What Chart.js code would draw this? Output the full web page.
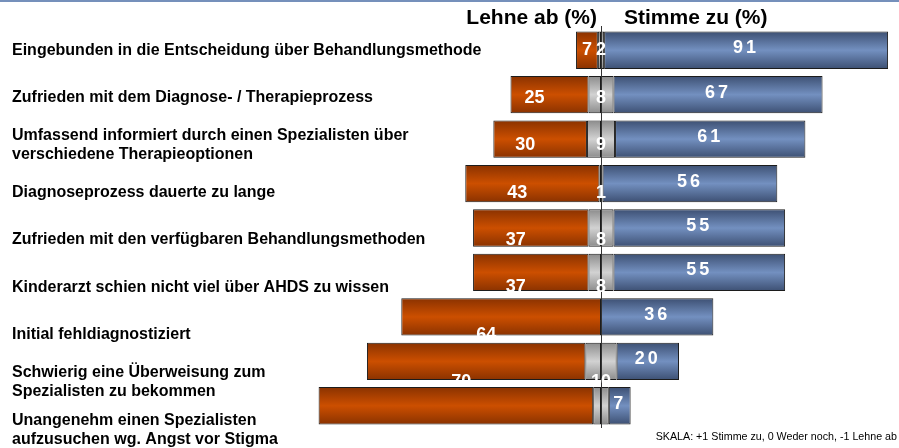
<!DOCTYPE html>
<html>
<head>
<meta charset="utf-8">
<script src="https://cdn.jsdelivr.net/npm/chart.js@4.4.1/dist/chart.umd.min.js"></script>
<style>
  html, body { margin: 0; padding: 0; background: #fff; }
  canvas { display: block; }
</style>
</head>
<body>
<canvas id="surveyChart" width="899" height="448"></canvas>
<script>
// Kategorien (Fragen)
const categories = [
    'Eingebunden in die Entscheidung über Behandlungsmethode',
    'Zufrieden mit dem Diagnose- / Therapieprozess',
    ['Umfassend informiert durch einen Spezialisten über', 'verschiedene Therapieoptionen'],
    'Diagnoseprozess dauerte zu lange',
    'Zufrieden mit den verfügbaren Behandlungsmethoden',
    'Kinderarzt schien nicht viel über AHDS zu wissen',
    'Initial fehldiagnostiziert',
    ['Schwierig eine Überweisung zum', 'Spezialisten zu bekommen'],
    ['Unangenehm einen Spezialisten', 'aufzusuchen wg. Angst vor Stigma']
];

// Werte in %
const disagree = [7, 25, 30, 43, 37, 37, 64, 70, 88];
const neutral = [2, 8, 9, 1, 8, 8, 0, 10, 5];
const agree = [91, 67, 61, 56, 55, 55, 36, 20, 7];

const headerLeft = 'Lehne ab (%)';
const headerRight = 'Stimme zu (%)';
const scaleNote = 'SKALA: +1 Stimme zu, 0 Weder noch, -1 Lehne ab';

const BAR_PCT = 0.84;
const FONT = '"Liberation Sans", Arial, sans-serif';

// labels drift downward a bit per row (as in the original slide)
function drift(i) {
    return i * 3;
}

function barGradient(stops) {
    return function(ctx) {
        const chart = ctx.chart;
        const yScale = chart.scales && chart.scales.y;
        if (ctx.type !== 'data' || !yScale || !chart.chartArea) {
            return stops[1];
        }
        const band = (yScale.bottom - yScale.top) / categories.length;
        const c = yScale.getPixelForValue(ctx.dataIndex);
        const h = band * BAR_PCT / 2;
        const g = chart.ctx.createLinearGradient(0, c - h, 0, c + h);
        g.addColorStop(0, stops[0]);
        g.addColorStop(0.5, stops[1]);
        g.addColorStop(1, stops[0]);
        return g;
    };
}

const orangeFill = barGradient(['#8a3200', '#cc4f00']);
const blueFill = barGradient(['#3d5073', '#7390c0']);
const grayFill = barGradient(['#8c8c8c', '#d2d2d2']);

const decorPlugin = {
    id: 'decor',
    beforeDraw(chart) {
        const c = chart.ctx;
        c.save();
        c.fillStyle = '#7590bb';
        c.fillRect(0, 0, chart.width, 2);
        c.restore();
    },
    afterDatasetsDraw(chart) {
        const c = chart.ctx;
        const x = chart.scales.x;
        const y = chart.scales.y;
        const x0 = x.getPixelForValue(0);

        c.save();
        // Mittellinie
        c.strokeStyle = '#333';
        c.lineWidth = 1;
        c.beginPath();
        c.moveTo(Math.round(x0) + 0.5, 26);
        c.lineTo(Math.round(x0) + 0.5, y.bottom);
        c.stroke();

        // Überschriften
        c.fillStyle = '#000';
        c.font = 'bold 21px ' + FONT;
        c.textBaseline = 'middle';
        c.textAlign = 'right';
        c.fillText(headerLeft, x0 - 4, 18);
        c.textAlign = 'left';
        c.fillText(headerRight, x0 + 23, 18);

        // Kategorien links
        c.font = 'bold 16px ' + FONT;
        c.textAlign = 'left';
        categories.forEach((cat, i) => {
            const lines = Array.isArray(cat) ? cat : [cat];
            const cy = y.getPixelForValue(i) + drift(i);
            const lh = 19;
            lines.forEach((line, k) => {
                c.fillText(line, 12, cy + (k - (lines.length - 1) / 2) * lh);
            });
        });

        // Werte in den Balken
        const metaDis = chart.getDatasetMeta(1);
        const metaAgr = chart.getDatasetMeta(3);
        c.fillStyle = '#fff';
        c.font = 'bold 18px ' + FONT;
        c.textAlign = 'center';
        for (let i = 0; i < categories.length; i++) {
            const d = metaDis.data[i].getProps(['x', 'y', 'base'], true);
            const a = metaAgr.data[i].getProps(['x', 'y', 'base'], true);
            const ly = d.y + drift(i);
            if (ly <= y.bottom) {
                const w = Math.abs(d.base - d.x);
                const shift = Math.min(15, Math.max(0, (w - 25) * 0.3));
                if (disagree[i]) c.fillText(String(disagree[i]), (d.x + d.base) / 2 - shift, ly);
                if (neutral[i]) c.fillText(String(neutral[i]), x0, ly);
            }
            if (agree[i]) {
                c.save();
                if ('letterSpacing' in c) c.letterSpacing = '3px';
                c.fillText(String(agree[i]), (a.x + a.base) / 2, a.y - 2);
                c.restore();
            }
        }

        // Skala-Hinweis
        c.fillStyle = '#000';
        c.font = '10.7px ' + FONT;
        c.textAlign = 'right';
        c.fillText(scaleNote, chart.width - 2, 437);
        c.restore();
    }
};

const half = neutral.map(v => v / 2);

new Chart(document.getElementById('surveyChart'), {
    type: 'bar',
    data: {
        labels: categories,
        datasets: [{
            label: 'Weder noch (-)',
            data: half.map(v => -v),
            backgroundColor: grayFill
        }, {
            label: 'Lehne ab',
            data: disagree.map(v => -v),
            backgroundColor: orangeFill
        }, {
            label: 'Weder noch (+)',
            data: half,
            backgroundColor: grayFill
        }, {
            label: 'Stimme zu',
            data: agree,
            backgroundColor: blueFill
        }]
    },
    options: {
        indexAxis: 'y',
        responsive: false,
        animation: false,
        devicePixelRatio: 1,
        layout: {
            padding: { top: 28, bottom: 20, left: 0, right: 0 }
        },
        datasets: {
            bar: {
                barPercentage: BAR_PCT,
                categoryPercentage: 1,
                borderColor: '#1c1c1c',
                borderWidth: 1,
                borderSkipped: false
            }
        },
        plugins: {
            legend: { display: false },
            tooltip: { enabled: false }
        },
        scales: {
            x: {
                stacked: true,
                min: -192.6,
                max: 95.5,
                display: false
            },
            y: {
                stacked: true,
                display: false
            }
        }
    },
    plugins: [decorPlugin]
});
</script>
</body>
</html>
